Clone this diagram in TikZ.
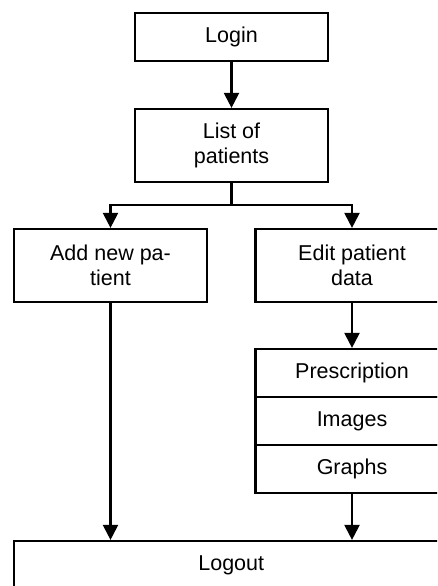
\documentclass[tikz,border=0pt]{standalone}
\usepackage{fontspec}
\setmainfont{Liberation Sans}
\usetikzlibrary{arrows.meta}
\begin{document}
\begin{tikzpicture}[x=1pt,y=-1pt,
  box/.style={draw=black,line width=2.2pt,minimum width=193pt,inner sep=0pt,align=center,
              font=\fontsize{21.5}{25}\selectfont,text=black},
  arr/.style={draw=black,line width=2.2pt,-{Triangle[length=15pt,width=15pt]}},
  ln/.style={draw=black,line width=2.2pt}]
\useasboundingbox (0,0) rectangle (437,586);
\clip (0,0) rectangle (437,586);
\node[box,minimum height=48pt] (login) at (231.5,37) {Login};
\node[box,minimum height=73pt] (list) at (231.5,145.5) {List of\\patients};
\node[box,minimum height=73pt] (add) at (110.5,265.5) {Add new pa-\\tient};
\node[box,minimum height=73pt] (edit) at (352,265.5) {Edit patient\\data};
\node[box,minimum height=48pt] (presc) at (352,373) {Prescription};
\node[box,minimum height=48pt] (images) at (352,421) {Images};
\node[box,minimum height=48pt] (graphs) at (352,469) {Graphs};
\node[box,minimum width=434.5pt,minimum height=48pt] (logout) at (231.25,565) {Logout};
\coordinate (split) at (231.5,205);
\draw[arr] (login) -- (list);
\draw[ln] (list) -- (split);
\draw[arr] (split) -| (add.north);
\draw[arr] (split) -| (edit.north);
\draw[arr] (edit) -- (presc);
\draw[arr] (add.south) -- (add.south |- logout.north);
\draw[arr] (graphs.south) -- (graphs.south |- logout.north);
\end{tikzpicture}
\end{document}
